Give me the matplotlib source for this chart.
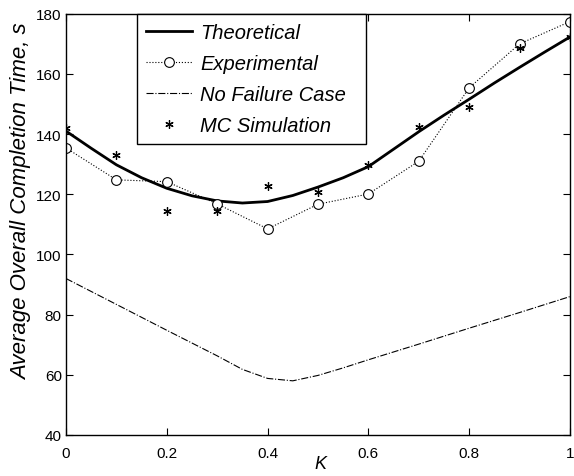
import numpy as np
import matplotlib.pyplot as plt

plt.rcParams["font.family"] = ["Liberation Sans", "DejaVu Sans"]

# K values
k_points = [0.0, 0.1, 0.2, 0.3, 0.4, 0.5, 0.6, 0.7, 0.8, 0.9, 1.0]
k_theory = [0.0, 0.05, 0.1, 0.15, 0.2, 0.25, 0.3, 0.35, 0.4, 0.45, 0.5,
            0.55, 0.6, 0.65, 0.7, 0.75, 0.8, 0.85, 0.9, 0.95, 1.0]
k_nofail = [0.0, 0.1, 0.2, 0.3, 0.35, 0.4, 0.45, 0.5, 0.55, 0.6, 0.7, 0.8, 0.9, 1.0]

theoretical = [141.0, 135.3, 129.8, 125.5, 122.0, 119.5, 117.8, 117.1, 117.6, 119.6, 122.4,
               125.5, 129.2, 135.0, 140.8, 146.3, 151.6, 157.0, 162.2, 167.3, 172.3]
experimental = [135.4, 124.8, 124.2, 116.8, 108.5, 116.7, 120.1, 131.0, 155.4, 170.0, 177.4]
no_failure = [92.0, 83.4, 74.8, 66.3, 61.8, 58.8, 58.0, 59.8, 62.3, 65.0, 70.2, 75.5, 80.7, 86.0]
mc_sim = [142.0, 133.0, 114.5, 114.5, 122.7, 120.9, 129.9, 142.3, 149.0, 168.7, 172.2]

fig = plt.figure(figsize=(5.74, 4.77), dpi=100)
ax = fig.add_axes([0.115, 0.086, 0.878, 0.883])

ax.plot(k_theory, theoretical, "k-", lw=2, label="Theoretical")
ax.plot(k_points, experimental, color="k", ls=":", lw=0.8, marker="o",
        mfc="white", mec="k", ms=7, mew=0.8, label="Experimental")
ax.plot(k_nofail, no_failure, color="k", ls="-.", lw=0.8, label="No Failure Case")
ax.plot(k_points, mc_sim, ls="none", marker=(6, 2, 0), color="k", ms=6,
        mew=0.9, label="MC Simulation")

ax.set_xlim(0, 1)
ax.set_ylim(40, 180)
ax.set_xticks([0, 0.2, 0.4, 0.6, 0.8, 1])
ax.set_xticklabels(["0", "0.2", "0.4", "0.6", "0.8", "1"])
ax.set_yticks(range(40, 181, 20))
ax.tick_params(direction="in", top=True, right=True, labelsize=11, length=5, width=0.8)
ax.tick_params(axis="x", pad=8)
ax.tick_params(axis="y", pad=3)
for s in ax.spines.values():
    s.set_linewidth(1.0)

ax.set_xlabel("K", fontsize=13, style="italic")
ax.set_ylabel("Average Overall Completion Time, s", fontsize=16, style="italic")
ax.xaxis.set_label_coords(0.505, -0.047)
ax.yaxis.set_label_coords(-0.068, 0.556)

# MATLAB-style legend box has extra space at the right end
leg = ax.legend(loc="upper left", bbox_to_anchor=(0.14, 1.0), borderaxespad=0,
                prop={"size": 14.5, "style": "italic"}, handlelength=2.3,
                handletextpad=0.4, labelspacing=0.6, borderpad=0.45,
                fancybox=False, edgecolor="k", framealpha=1)
leg.get_texts()[2].set_text("No Failure Case  ")
leg.get_frame().set_linewidth(1.0)

fig.savefig("out.png", dpi=100)
